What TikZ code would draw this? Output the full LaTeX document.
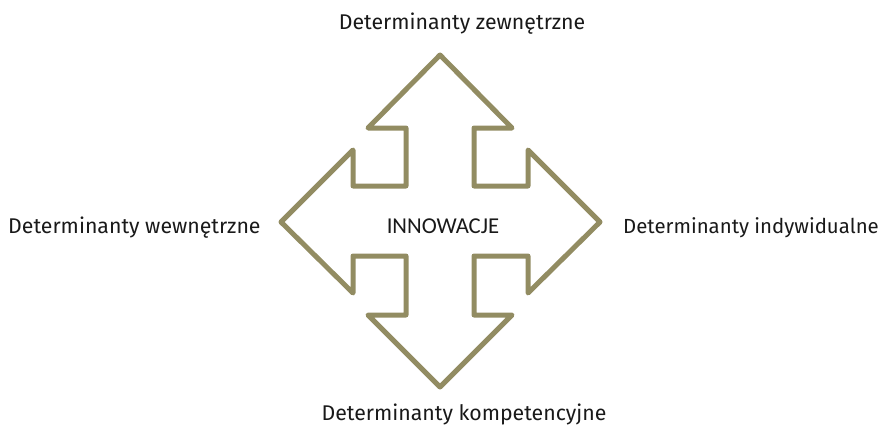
\documentclass[tikz,border=0pt]{standalone}
\usepackage{fontspec}
\setmainfont{Fira Sans}
\newfontfamily\centerfont{Carlito}
\usepackage{xcolor}
\usetikzlibrary{positioning}
\definecolor{arrowolive}{RGB}{146,140,98}
\tikzset{
  quadarrow/.style={draw=arrowolive, line width=5pt, line join=round},
  detlabel/.style={font=\fontsize{21.3}{24}\selectfont, inner sep=0pt, text=black!90},
  core/.style={font=\centerfont\fontsize{22.7}{26}\selectfont, inner sep=0pt, text=black!90},
}

\begin{document}
\begin{tikzpicture}[x=1pt, y=-1pt]
  \useasboundingbox (0,0) rectangle (881,428);

  % four-way arrow outline
  \draw[quadarrow] (440,55) -- (512,128) -- (474,128) -- (474,186) -- (528,186) -- (528,150)
    -- (600,222) -- (528,293) -- (528,256) -- (474,256) -- (474,315) -- (512,315)
    -- (440,387) -- (368,315) -- (406,315) -- (406,256) -- (353,256) -- (353,293)
    -- (281,222) -- (353,150) -- (353,186) -- (406,186) -- (406,128) -- (368,128) -- cycle;

  \node[core] (inn) at (443,226) {INNOWACJE};

  \node[detlabel] (zew) at (462,24)  {Determinanty zewnętrzne};
  \node[detlabel, anchor=west] (wew) at (8,228)   {Determinanty wewnętrzne};
  \node[detlabel, anchor=east, font=\fontsize{20.4}{24}\selectfont] (ind) at (879,228) {Determinanty indywidualne};
  \node[detlabel] (komp) at (464,414) {Determinanty kompetencyjne};
\end{tikzpicture}
\end{document}
